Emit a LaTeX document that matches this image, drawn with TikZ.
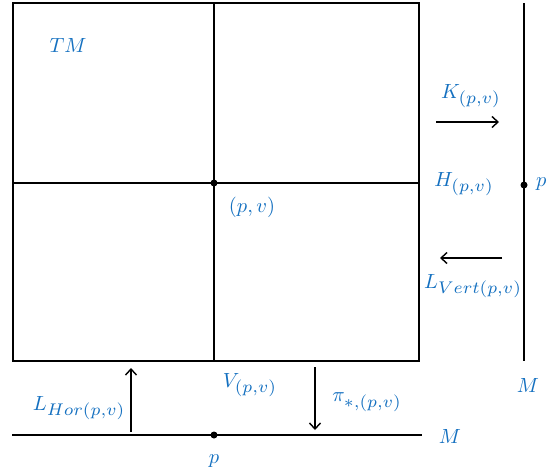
\documentclass[tikz,border=0pt]{standalone}
\usetikzlibrary{arrows.meta}
\definecolor{lblue}{RGB}{20,112,192}
\newcommand{\mylab}[1]{\scalebox{2.05}{$#1$}}
\newcommand{\mysub}[1]{\scalebox{1.18}{$\scriptstyle #1$}}
\begin{document}
\begin{tikzpicture}[x=1pt,y=-1pt,
  frame/.style={line width=2.8pt,black},
  arr/.style={line width=1.4pt,-{Straight Barb[length=6pt,width=11pt,line width=1.4pt]}},
  lbl/.style={text=lblue,inner sep=0pt},
  dot/.style={circle,fill=black,inner sep=0pt,minimum size=7pt}]
\useasboundingbox (0,0) rectangle (547,474);
% box
\draw[frame] (13,3) rectangle (419,361);
\draw[frame] (214,3) -- (214,361);
\draw[frame] (13,183) -- (419,183);
\node[dot] (c) at (214,183) {};
% right vertical line
\coordinate (rt) at (524,3);
\coordinate (rb) at (524,361);
\draw[frame] (rt) -- (rb);
\node[dot] (rp) at (524,185) {};
% bottom line
\coordinate (bl) at (12,435);
\coordinate (br) at (422,435);
\draw[frame] (bl) -- (br);
\node[dot] (bp) at (214,435) {};
% arrows
\coordinate (k1) at (436,122); \coordinate (k2) at (499,122);
\draw[arr] (k1) -- (k2);
\coordinate (l1) at (502,258); \coordinate (l2) at (440,258);
\draw[arr] (l1) -- (l2);
\coordinate (u1) at (131,432); \coordinate (u2) at (131,368);
\draw[arr] (u1) -- (u2);
\coordinate (d1) at (315,367); \coordinate (d2) at (315,430);
\draw[arr] (d1) -- (d2);
% labels
\node[lbl] (tm) at (68,45) {\mylab{TM}};
\node[lbl] (pv) at (252,207) {\mylab{(p,v)}};
\node[lbl] (K) at (471,96) {\mylab{K_{\mysub{(p,v)}}}};
\node[lbl] (H) at (464,184) {\mylab{H_{\mysub{(p,v)}}}};
\node[lbl] (LV) at (473,286) {\mylab{L_{\mysub{Vert(p,v)}}}};
\node[lbl,anchor=west] (pr) at (536,184) {\mylab{p}};
\node[lbl] (Mr) at (528,385) {\mylab{M}};
\node[lbl] (LH) at (79,408) {\mylab{L_{\mysub{Hor(p,v)}}}};
\node[lbl] (V) at (250,385) {\mylab{V_{\mysub{(p,v)}}}};
\node[lbl] (pi) at (367,402) {\mylab{\pi_{\mysub{*,(p,v)}}}};
\node[lbl] (Mb) at (450,436) {\mylab{M}};
\node[lbl] (pb) at (214,461) {\mylab{p}};
\end{tikzpicture}
\end{document}
